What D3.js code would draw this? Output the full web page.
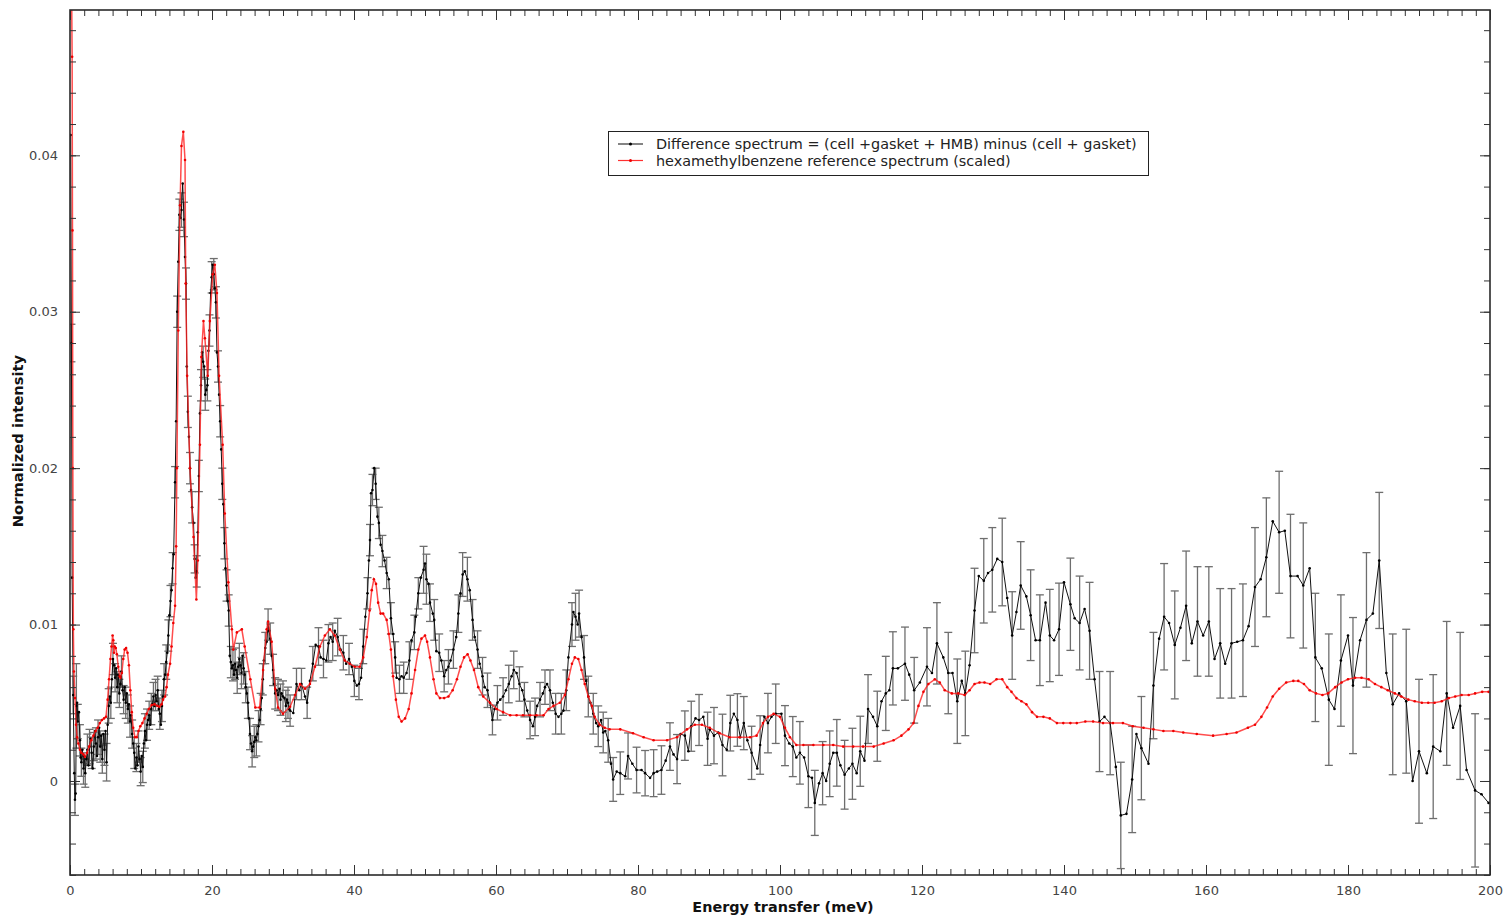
<!DOCTYPE html>
<html>
<head>
<meta charset="utf-8">
<script src="https://cdn.jsdelivr.net/npm/d3@7"></script>
<style>
  html, body { margin: 0; padding: 0; background: #fff; }
  svg { display: block; font-family: "DejaVu Sans", sans-serif; }
</style>
</head>
<body>
<svg id="chart" width="1505" height="915"></svg>
<script>
// ---------------- DATA (intensities in units of 1e-3) ----------------
// Difference spectrum: [energy (meV), intensity (x1e-3), error (x1e-3, only where a bar is drawn)]
const diffPoints = [
[0.10,41.3],[0.20,28.0,1.2],[0.30,13.0],[0.45,5.5,1.2],[0.60,0.5],[0.70,-1.2,1.0],[0.80,-0.8],[0.90,4.8,2.7],[1.00,5.0],[1.10,3.8,1.1],[1.25,4.4],[1.40,2.6,1.0],[1.50,1.5],[1.60,1.2,0.9],[1.75,2.0],[1.90,0.8,1.0],[2.00,1.6],[2.15,0.5,0.9],[2.30,1.4],[2.45,2.0,1.0],[2.60,1.0],[2.75,2.2,1.1],[2.90,2.7],[3.05,1.8,1.0],[3.20,0.8],[3.35,2.2,0.9],[3.50,3.2],[3.65,2.4,1.0],[3.80,1.6],[3.95,2.8,1.1],[4.10,3.4],[4.25,2.2,1.0],[4.40,2.9],[4.55,1.4,0.9],[4.70,3.0],[4.85,2.0,1.0],[5.00,3.2],[5.15,1.2,1.2],[5.30,3.6],[5.45,4.8,1.1],[5.60,5.4],[5.75,5.0,1.0],[5.90,6.5],[6.05,7.8,1.0],[6.20,7.4],[6.35,6.6,0.9],[6.50,7.2],[6.65,6.0,1.0],[6.80,6.8],[6.95,5.6,0.9],[7.10,6.2],[7.25,7.0,1.0],[7.40,5.8],[7.55,5.2,0.9],[7.70,6.0],[7.85,5.0,1.0],[8.00,5.6],[8.15,4.6,0.9],[8.30,4.9],[8.45,3.8,1.0],[8.60,4.2],[8.75,3.0,0.9],[8.90,2.4],[9.05,1.8,1.0],[9.20,0.8],[9.35,1.5,0.9],[9.50,1.0],[9.65,2.2,1.0],[9.80,1.4],[9.95,0.6,0.9],[10.10,1.6],[10.25,0.9,1.0],[10.40,2.4],[10.55,3.2,1.1],[10.70,2.6],[10.85,3.6,1.0],[11.00,3.9],[11.15,4.2,0.9],[11.30,3.6],[11.45,4.6,1.0],[11.60,4.9],[11.75,5.4,0.9],[11.90,4.8],[12.05,5.5,1.0],[12.20,5.1],[12.35,5.8,0.9],[12.50,4.6],[12.65,4.3,1.0],[12.80,3.6],[12.95,4.8,1.0],[13.10,5.4],[13.25,6.5,1.0],[13.40,6.8],[13.55,7.6,1.1],[13.70,8.2],[13.85,9.3,1.0],[14.00,10.6],[14.15,11.5,1.0],[14.30,12.2],[14.45,13.6,1.0],[14.60,14.5],
[14.80,19.1,1.0],[14.95,23.0],[15.10,30.0,1.0],[15.25,33.2],[15.40,36.2,1.0],[15.55,36.0],[15.70,36.5,1.1],[15.87,38.2],[16.06,35.9,1.1],[16.20,33.5],[16.34,31.8,1.0],[16.45,26.5],[16.60,23.6,1.0],[16.75,22.0],[16.90,20.0,1.0],[17.05,18.6],[17.20,17.5,1.0],[17.40,16.5],[17.55,14.2,0.9],[17.70,13.0],[17.85,13.4,1.0],[18.00,15.9],[18.15,19.5,1.0],[18.30,23.5],[18.45,25.3,1.0],[18.60,27.4],[18.75,26.8,1.0],[18.90,26.5],[19.05,24.7,1.0],[19.20,25.0],[19.35,25.3,1.0],[19.50,27.5],[19.65,28.8,1.0],[19.80,31.2],[19.95,32.2,1.0],[20.10,33.0],[20.25,32.4,1.0],[20.40,31.5],[20.55,30.6,1.0],[20.70,27.4],[20.85,26.5,1.0],[21.00,24.7],[21.15,23.0,1.0],[21.30,21.2],[21.45,19.0,1.0],[21.60,17.7],[21.75,15.2,1.0],[21.90,13.6],[22.05,12.5,1.0],[22.20,11.5],[22.35,10.9,1.0],[22.50,8.0],[22.65,7.6,1.0],[22.80,7.2],[22.95,7.4,1.0],[23.10,6.8],[23.25,7.5,1.0],[23.40,7.1],[23.55,6.6,1.0],[23.70,7.3],[23.85,7.8,1.0],[24.00,7.4],[24.15,6.9,1.0],[24.30,8.0],[24.45,7.2,1.0],[24.60,6.8],[24.75,6.0,1.0],[24.90,5.6],[25.05,5.0,1.0],[25.20,4.0],[25.35,3.0,1.0],[25.50,2.4],[25.65,1.9,1.0],[25.80,2.2],[25.95,2.5,1.0],[26.10,2.8],[26.25,2.6,1.0],[26.40,3.0],[26.55,3.5,1.0],[26.70,3.9],[26.85,4.6,1.0],[27.00,5.3],[27.15,6.5,1.0],[27.30,7.7],[27.50,8.5,1.0],[27.70,8.9],[27.90,10.0,1.0],[28.05,9.6],[28.20,9.1,1.0],[28.40,8.0],[28.60,7.1,1.0],[28.75,6.2],[28.90,5.6,1.0],[29.10,5.8],[29.30,5.5,1.0],[29.50,5.9],[29.65,5.2,1.0],[29.80,5.6],[30.00,5.4,1.0],[30.20,5.3],[30.40,4.8,1.0],[30.55,5.2],[30.70,5.0,1.0],[30.85,4.6],[31.00,4.5,1.0],
[31.45,4.35],[31.9,6.2,1.0],[32.3,5.8],[32.6,6.2,1.0],[33.1,5.4],[33.4,5.0,1.0],[33.8,6.4],[34.2,7.5,1.1],[34.6,8.7],[35.0,8.6,1.2],[35.3,7.9],[35.7,7.8,1.2],[36.1,7.7],[36.4,8.8,1.2],[36.7,9.2],[37.0,8.9,1.2],[37.3,9.6],[37.7,9.2,1.2],[38.1,8.4],[38.5,8.2,1.1],[38.9,7.5],[39.3,7.8,1.0],[39.7,7.3],[40.05,6.4,1.0],[40.4,6.1],[40.7,6.2,1.0],[41.0,6.6],[41.3,8.6,1.1],[41.6,10.5],[41.9,12.0,1.0],[42.1,14.1],[42.25,15.4,1.0],[42.4,18.4],[42.6,18.6,1.0],[42.85,20.0],[43.05,19.0,1.0],[43.3,16.9],[43.5,16.5,1.0],[43.75,15.1],[44.0,14.7,1.0],[44.3,14.1],[44.6,13.3,1.0],[44.9,12.9],[45.2,10.4,1.0],[45.5,9.4],[45.8,7.9,1.0],[46.0,6.6],[46.4,6.5,0.9],[46.7,6.7],[47.0,6.6,1.0],[47.4,6.9],[47.8,7.7,1.2],[48.1,9.0],[48.5,9.5,1.1],[48.7,10.5],[49.06,12.0,1.0],[49.4,13.0],[49.8,13.5,1.5],[50.0,13.9],[50.2,12.9,1.6],[50.5,12.6],[50.7,11.4,1.2],[51.1,10.7],[51.3,10.3,1.3],[51.6,8.3],[52.0,8.2,1.2],[52.3,7.7],[52.7,6.7,1.0],[53.0,7.1],[53.3,7.3,1.1],[53.6,7.7],[54.0,8.4,1.2],[54.4,9.2],[54.7,10.7,1.2],[55.0,12.0],[55.3,13.2,1.4],[55.6,13.4],[55.97,12.9,1.4],[56.3,12.2],[56.7,10.3,1.3],[57.0,9.2],[57.4,8.4,1.2],[57.7,7.5],[58.1,6.7,1.2],[58.4,6.0],[58.8,5.8,1.1],[59.15,5.0],[59.5,3.9,0.95],[59.8,4.6],[60.2,5.0,1.1],[60.6,5.2],[61.0,5.4,1.2],[61.4,5.8],[61.8,6.2,1.2],[62.2,6.7],[62.5,7.1,1.2],[62.9,6.9],[63.3,6.2,1.1],[63.7,5.8],[64.0,5.2,1.1],[64.4,4.5],[64.8,3.9,1.2],[65.2,3.5],[65.5,4.1,1.2],[65.8,4.8],[66.2,5.2,1.1],[66.6,5.6],[66.9,6.0,1.1],[67.2,6.2],[67.6,5.8,1.3],[68.0,5.0],[68.4,4.3,1.3],[68.8,4.1],[69.2,4.3,1.3],[69.5,4.5],[69.9,5.8,1.3],[70.2,7.9],[70.7,10.0,1.4],[70.9,10.8],[71.2,10.5,1.5],[71.5,10.0],[71.7,10.7,1.5],[72.05,9.2],[72.4,7.9,1.4],[72.7,6.4],[73.0,5.4,1.3],[73.3,5.0],[73.7,4.3,1.3],[74.1,3.7],[74.4,3.5,1.3],[74.8,3.9],[75.1,3.1,1.3],[75.4,3.2],[75.8,2.6,1.4],[76.2,1.1],[76.5,0.1,1.4],
[77.0,0.6],[77.5,0.5,1.36],[78.2,0.3],[78.6,1.6,1.47],[79.2,1.1],[79.8,0.7,1.46],[80.5,0.7],[81.0,0.5,1.45],[81.7,0.2],[82.2,0.5,1.5],[82.7,0.6],[83.3,0.7,1.55],[83.9,1.3],[84.5,2.2,1.52],[85.0,1.7],[85.5,1.4,1.57],[86.0,3.0],[86.6,2.9,1.58],[87.1,1.9],[87.5,3.5,1.6],[88.1,4.0],[88.6,3.9,1.63],[89.2,4.1],[89.8,2.7,1.7],[90.1,3.3],[90.7,2.9,1.8],[91.3,3.1],[91.9,2.3,1.97],[92.5,2.0],[93.0,3.7,1.78],[93.5,4.3],[94.0,3.9,1.68],[94.4,2.8],[94.9,3.7,1.7],[95.4,2.6],[96.0,1.8,1.7],[96.8,0.8],[97.2,2.3,1.87],[97.8,4.1],[98.3,3.7,1.9],[98.8,4.1],[99.4,4.3,1.9],[100.2,4.3],[100.7,2.9,1.92],[101.3,2.4],[101.8,2.2,1.92],[102.3,1.5],[102.8,1.8,2.0],[103.4,1.5],[104.0,0.3,2.0],[104.5,0.2],[104.9,-1.4,2.08],[105.5,-0.15],[106.0,0.5,2.02],[106.5,0.0],[107.0,1.1,2.1],[107.5,1.8],[108.0,1.8,2.13],[108.5,1.0],[109.1,0.4,2.2],[109.7,0.8],[110.2,1.1,2.27],[110.8,0.5],[111.3,1.9,2.24],[111.9,1.3],[112.4,4.6,2.2],[113.1,4.1],[113.7,3.5,2.24],[114.3,5.1],[114.9,5.6,2.37],[115.4,5.8],[115.9,7.2,2.34],[116.6,7.2],[117.6,7.5,2.34],
[118.2,6.8],[118.9,5.8,2.1],[119.7,6.3],[120.7,7.3,2.5],[121.4,6.9],[122.1,8.8,2.6],[123.0,7.9],[123.7,6.9,2.6],[124.3,6.9],[124.97,5.1,2.7],[125.6,6.4],[126.1,5.6,2.7],[126.7,7.4],[127.4,10.9,2.7],[128.0,13.1],[128.7,12.8,2.7],[129.3,13.3],[129.9,13.5,2.7],[130.6,14.2],[131.3,14.0,2.8],[132.0,11.7],[132.7,9.3,2.8],[133.3,10.8],[133.9,12.5,2.8],[134.7,11.8],[135.3,10.6,2.9],[136.0,9.0],[136.6,9.0,2.9],[137.4,11.4],[138.0,9.3,2.95],[138.6,9.0],[139.3,9.7,2.95],[140.0,12.7],[140.9,11.3,2.95],[141.5,10.4],[142.2,10.1,3.0],[142.9,11.0],[143.6,9.6,3.1],[144.3,6.5],[145.0,3.8,3.2],[145.7,4.1],[146.5,3.7,3.3],[147.3,0.9],[148.0,-2.2,3.4],[148.8,-2.1],[149.6,0.1,3.4],[150.2,3.0],[150.9,2.1,3.3],[151.9,1.1],[152.6,6.1,3.4],[153.4,9.1],[154.1,10.5,3.4],[154.8,10.1],[155.6,8.7,3.45],[156.4,9.8],[157.2,11.2,3.5],[158.0,8.8],[158.8,10.2,3.5],
[159.6,9.3],[160.4,10.2,3.5],[161.2,7.8],[162.0,8.8,3.5],[162.7,7.5],[163.6,8.8,3.5],[164.4,8.9],[165.2,9.0,3.6],[166.0,9.9],[166.9,12.4,3.8],[167.7,12.9],[168.5,14.3,3.8],[169.4,16.6],[170.3,15.9,3.9],[171.1,16.0],[171.9,13.1,3.95],[172.9,13.1],[173.7,12.5,4.0],[174.6,13.6],[175.4,7.9,4.1],[176.3,7.2],[177.3,5.2,4.2],[178.1,4.6],[179.0,7.7,4.2],[180.0,9.3],[180.7,6.1,4.35],[181.7,9.0],[182.6,10.3,4.3],[183.5,10.7],[184.4,14.1,4.35],[185.4,6.9],[186.3,4.9,4.5],[187.2,5.6],[188.2,5.1,4.6],[189.1,0.0],[190.0,1.9,4.6],[191.1,0.5],[192.0,2.2,4.6],[193.0,1.9],[193.9,5.6,4.6],[194.8,3.4],[195.8,4.8,4.7],[196.7,0.7],[197.9,-0.6,4.9],[198.8,-0.85],[199.8,-1.4]
];

// Hexamethylbenzene reference spectrum (scaled): [energy (meV), intensity (x1e-3)]
const refPoints = [
[0.05,60],[0.20,52],[0.30,46.3],[0.35,35.2],[0.40,20],[0.47,9.7],[0.55,7.0],[0.70,5.3],[0.85,3.6],[1.00,2.8],[1.17,2.4],[1.40,2.0],[1.60,1.8],[1.90,1.7],[2.10,1.55],[2.40,1.8],[2.70,2.2],[3.00,2.6],[3.30,2.9],[3.60,3.2],[3.90,3.4],[4.20,3.7],[4.50,3.9],[4.80,4.0],[5.07,4.1],[5.30,5.2],[5.50,6.5],[5.70,7.8],[5.85,8.6],[6.00,9.3],[6.10,9.0],[6.20,8.2],[6.30,8.6],[6.45,8.5],[6.60,8.1],[6.80,7.3],[7.00,6.7],[7.10,6.6],[7.30,6.9],[7.50,7.8],[7.70,8.4],[7.90,8.5],[8.10,8.2],[8.30,7.4],[8.50,5.8],[8.70,4.4],[8.90,3.4],[9.15,2.8],[9.40,2.8],[9.65,3.2],[9.90,3.5],[10.20,3.7],[10.50,4.0],[10.80,4.3],[11.10,4.6],[11.50,4.86],[11.90,4.9],[12.30,4.8],[12.60,4.75],[12.90,4.9],[13.10,5.2],[13.40,5.4],[13.60,6.0],[13.80,6.8],[14.10,7.5],[14.30,8.6],[14.55,10.1],[14.80,11.2],[14.95,15.0],[15.05,20.0],[15.25,28.8],[15.50,36.8],[15.70,40.6],[15.96,41.5],[16.20,39.7],[16.30,31.8],[16.50,25.9],[16.90,20.0],[17.40,15.6],[17.80,11.6],[18.00,14.1],[18.30,21.5],[18.50,27.1],[18.80,29.4],[19.00,28.3],[19.40,25.9],[19.70,29.4],[20.10,32.4],[20.40,33.0],[20.70,31.2],[21.00,25.9],[21.50,21.5],[21.80,17.1],[22.30,12.7],[22.80,9.7],[23.00,8.4],[23.50,9.5],[24.20,9.7],[24.60,8.6],[25.40,6.5],[26.10,4.7],[26.70,4.7],[27.20,7.1],[27.70,9.7],[27.90,10.2],[28.40,8.9],[28.90,5.9],[29.30,4.7],[30.00,4.3],[31.00,4.75],[31.70,5.5],[32.40,6.2],[33.10,5.9],[33.80,6.2],[34.50,7.3],[35.20,8.6],[35.90,9.3],[36.60,9.7],[37.30,9.3],[38.00,8.4],[38.70,7.7],[39.40,7.5],[40.10,7.3],[40.80,7.3],[41.30,7.9],[41.80,9.2],[42.20,10.9],[42.50,12.2],[42.80,12.9],[43.10,12.6],[43.40,11.4],[43.75,10.7],[44.10,10.7],[44.60,10.3],[44.90,9.4],[45.20,8.4],[45.50,6.7],[45.90,5.2],[46.30,4.1],[46.70,3.8],[47.20,4.0],[47.70,4.6],[48.10,5.6],[48.60,7.1],[49.06,8.4],[49.50,9.1],[50.00,9.3],[50.30,8.9],[50.70,7.9],[51.20,6.5],[51.60,5.6],[52.10,5.3],[52.70,5.3],[53.30,5.4],[53.90,5.8],[54.50,6.5],[55.00,7.3],[55.50,7.9],[56.00,8.1],[56.40,7.7],[56.90,7.1],[57.50,6.0],[58.20,5.4],[59.15,5.0],[60.10,4.6],[61.00,4.4],[62.00,4.2],[62.90,4.2],[63.80,4.2],[64.80,4.2],[65.70,4.2],[66.70,4.2],[67.40,4.6],[68.10,4.8],[69.00,5.0],[69.70,5.5],[70.20,6.5],[70.70,7.5],[71.10,7.9],[71.60,7.8],[72.05,7.1],[72.50,6.2],[73.00,5.4],[73.50,4.8],[73.90,4.1],[74.60,3.6],[75.30,3.4],[76.00,3.3],[77.50,3.3],[79.30,3.05],[80.80,2.8],[82.20,2.6],[84.10,2.6],[85.50,2.8],[86.90,3.3],[88.00,3.6],[89.00,3.6],[90.10,3.4],[91.50,3.05],[92.90,2.8],[94.30,2.8],[95.80,2.8],[96.70,2.9],[97.60,3.7],[98.30,4.1],[99.10,4.3],[100.00,4.1],[100.70,3.4],[101.40,2.8],[102.30,2.3],[103.30,2.3],[104.70,2.3],[106.10,2.3],[107.50,2.3],[108.90,2.2],[110.30,2.2],[111.70,2.2],[113.20,2.2],[114.60,2.4],[116.00,2.6],[117.10,2.9],[118.10,3.3],[118.80,3.7],[119.50,4.8],[120.20,5.7],[120.90,6.2],[121.80,6.5],[122.50,6.3],[123.20,5.8],[124.20,5.6],[125.10,5.6],[126.00,5.5],[126.70,5.8],[127.40,6.2],[128.10,6.3],[128.80,6.3],[129.60,6.2],[130.50,6.5],[131.30,6.5],[132.00,6.0],[132.60,5.7],[133.30,5.3],[134.00,5.1],[134.70,4.9],[135.50,4.4],[136.20,4.1],[137.10,4.1],[138.00,4.0],[139.00,3.7],[139.90,3.7],[140.90,3.7],[141.80,3.7],[143.00,3.8],[144.10,3.8],[145.50,3.7],[146.90,3.7],[148.30,3.7],[149.70,3.5],[151.20,3.4],[152.60,3.3],[154.00,3.2],[155.40,3.2],[156.80,3.1],[158.70,3.0],[161.00,2.9],[162.90,3.0],[164.30,3.1],[165.90,3.4],[166.90,3.6],[167.80,4.1],[168.60,4.7],[169.40,5.4],[170.30,5.9],[171.30,6.3],[172.30,6.4],[173.00,6.4],[173.80,6.2],[174.60,5.8],[175.50,5.6],[176.40,5.5],[177.20,5.6],[178.20,6.0],[179.10,6.3],[180.00,6.5],[181.00,6.6],[181.90,6.6],[182.90,6.5],[183.80,6.2],[184.70,6.0],[185.60,5.8],[186.60,5.6],[187.50,5.4],[188.50,5.2],[189.40,5.1],[190.40,5.0],[191.30,5.0],[192.20,5.0],[193.20,5.1],[194.20,5.3],[195.10,5.4],[196.00,5.5],[197.00,5.5],[197.90,5.6],[198.90,5.7],[199.80,5.7]
];

const intensityUnit = 1e-3;
const xMajorTicks = [0, 20, 40, 60, 80, 100, 120, 140, 160, 180, 200];
const yMajorTicks = [0, 0.01, 0.02, 0.03, 0.04];
const yTickLabels = ["0", "0.01", "0.02", "0.03", "0.04"];
const legendLabels = [
  "Difference spectrum = (cell +gasket + HMB) minus (cell + gasket)",
  "hexamethylbenzene reference spectrum (scaled)"
];
const xTitle = "Energy transfer (meV)";
const yTitle = "Normalized intensity";

// ---------------- LAYOUT ----------------
const L = 70, R = 1490, T = 10, B = 875;
const svg = d3.select("#chart");
const x = d3.scaleLinear().domain([0, 200]).range([L, R]);
const y = d3.scaleLinear().domain([-0.00601, 0.04929]).range([B, T]);

const diff = diffPoints.map(d => ({ e: d[0], v: d[1] * intensityUnit, err: d.length > 2 ? d[2] * intensityUnit : null }));
const ref = refPoints.map(d => ({ e: d[0], v: d[1] * intensityUnit }));

svg.append("defs").append("clipPath").attr("id", "plotClip")
  .append("rect").attr("x", L).attr("y", T).attr("width", R - L).attr("height", B - T);

const plot = svg.append("g").attr("clip-path", "url(#plotClip)");

// error bars
const bars = plot.append("g").attr("stroke", "#6e6e6e").attr("stroke-width", 1.3).attr("fill", "none");
diff.filter(d => d.err !== null).forEach(d => {
  const cx = x(d.e), y1 = y(d.v - d.err), y2 = y(d.v + d.err);
  bars.append("line").attr("x1", cx).attr("x2", cx).attr("y1", y1).attr("y2", y2);
  bars.append("line").attr("x1", cx - 4).attr("x2", cx + 4).attr("y1", y1).attr("y2", y1);
  bars.append("line").attr("x1", cx - 4).attr("x2", cx + 4).attr("y1", y2).attr("y2", y2);
});

const line = d3.line().x(d => x(d.e)).y(d => y(d.v));

// difference spectrum
plot.append("path").datum(diff).attr("d", line)
  .attr("fill", "none").attr("stroke", "#111").attr("stroke-width", 1);
plot.append("g").selectAll("circle").data(diff).join("circle")
  .attr("cx", d => x(d.e)).attr("cy", d => y(d.v)).attr("r", 1.3).attr("fill", "#000");

// reference spectrum
plot.append("path").datum(ref).attr("d", line)
  .attr("fill", "none").attr("stroke", "#ff2020").attr("stroke-width", 1.5).attr("stroke-opacity", 0.8);
plot.append("g").selectAll("circle").data(ref).join("circle")
  .attr("cx", d => x(d.e)).attr("cy", d => y(d.v)).attr("r", 1.3).attr("fill", "#ee0000");

// ---------------- AXES ----------------
const tickColor = "#333";
function styleAxis(g) {
  g.select(".domain").remove();
  g.selectAll(".tick line").attr("stroke", tickColor).attr("stroke-width", 1);
  g.selectAll(".tick text").attr("fill", "#444").attr("font-size", 13).attr("font-family", "DejaVu Sans, sans-serif");
}
const xMinor = d3.range(0, 201, 2);
const yMinor = d3.range(-6, 49, 2).map(v => v * intensityUnit);

// bottom
svg.append("g").attr("transform", `translate(0,${B})`)
  .call(d3.axisBottom(x).tickValues(xMinor).tickSize(-6).tickFormat(""))
  .call(styleAxis);
svg.append("g").attr("transform", `translate(0,${B})`)
  .call(d3.axisBottom(x).tickValues(xMajorTicks).tickSize(-10).tickPadding(10.5).tickFormat(d3.format("d")))
  .call(styleAxis);
// top
svg.append("g").attr("transform", `translate(0,${T})`)
  .call(d3.axisTop(x).tickValues(xMinor).tickSize(-6).tickFormat(""))
  .call(styleAxis);
svg.append("g").attr("transform", `translate(0,${T})`)
  .call(d3.axisTop(x).tickValues(xMajorTicks).tickSize(-10).tickFormat(""))
  .call(styleAxis);
// left
svg.append("g").attr("transform", `translate(${L},0)`)
  .call(d3.axisLeft(y).tickValues(yMinor).tickSize(-6).tickFormat(""))
  .call(styleAxis);
svg.append("g").attr("transform", `translate(${L},0)`)
  .call(d3.axisLeft(y).tickValues(yMajorTicks).tickSize(-10).tickPadding(12).tickFormat((d, i) => yTickLabels[i]))
  .call(styleAxis);
// right
svg.append("g").attr("transform", `translate(${R},0)`)
  .call(d3.axisRight(y).tickValues(yMinor).tickSize(-6).tickFormat(""))
  .call(styleAxis);
svg.append("g").attr("transform", `translate(${R},0)`)
  .call(d3.axisRight(y).tickValues(yMajorTicks).tickSize(-10).tickFormat(""))
  .call(styleAxis);

// frame
svg.append("rect").attr("x", L).attr("y", T).attr("width", R - L).attr("height", B - T)
  .attr("fill", "none").attr("stroke", "#2a2a2a").attr("stroke-width", 1.6);

// titles
svg.append("text").attr("x", 783).attr("y", 911.5).attr("text-anchor", "middle")
  .attr("font-size", 14.4).attr("font-weight", "bold").attr("fill", "#111").text(xTitle);
svg.append("text").attr("transform", `translate(22.5,${441}) rotate(-90)`).attr("text-anchor", "middle")
  .attr("font-size", 14.7).attr("font-weight", "bold").attr("fill", "#111").text(yTitle);

// legend
const lg = svg.append("g");
lg.append("rect").attr("x", 608.5).attr("y", 131.5).attr("width", 540).attr("height", 44)
  .attr("fill", "#fff").attr("stroke", "#222").attr("stroke-width", 1);
const legColors = ["#333", "#ff3030"];
legendLabels.forEach((t, i) => {
  const ly = 144 + i * 16.5;
  lg.append("line").attr("x1", 618).attr("x2", 643).attr("y1", ly).attr("y2", ly)
    .attr("stroke", legColors[i]).attr("stroke-width", 1.2);
  lg.append("circle").attr("cx", 630.5).attr("cy", ly).attr("r", 1.5).attr("fill", i === 0 ? "#000" : "#ee0000");
  lg.append("text").attr("x", 656).attr("y", ly).attr("dy", "0.35em")
    .attr("font-size", 14.4).attr("fill", "#222").text(t);
});
</script>
</body>
</html>
